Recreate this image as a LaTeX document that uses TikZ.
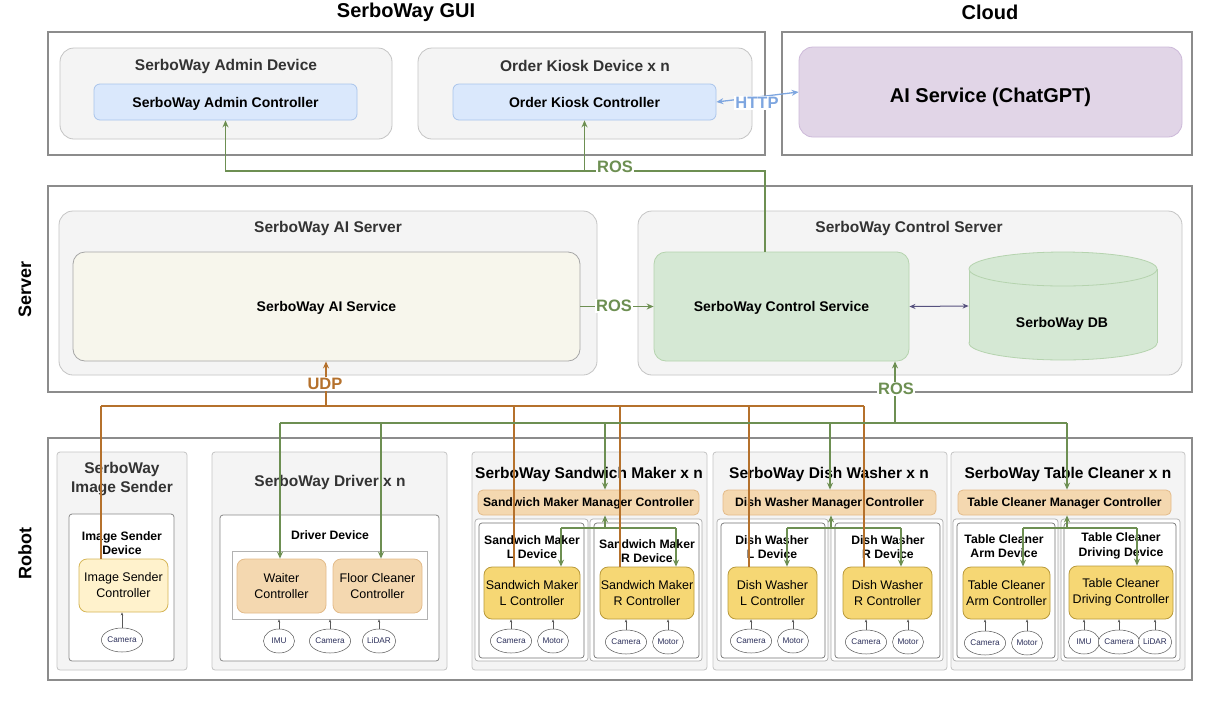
\documentclass[tikz,border=0pt]{standalone}
\usepackage{fontspec}
\setmainfont{Liberation Sans}
\usetikzlibrary{arrows.meta,shapes.geometric}
\definecolor{rosg}{HTML}{6D8F52}
\definecolor{udpb}{HTML}{B5712C}
\definecolor{httpb}{HTML}{7EA6E0}
\definecolor{dbp}{HTML}{56517E}
\definecolor{outerd}{HTML}{8C8C8C}
\definecolor{grpfill}{HTML}{F4F4F4}
\definecolor{grpdraw}{HTML}{C4C4C4}
\definecolor{bluef}{HTML}{DAE8FC}
\definecolor{blued}{HTML}{A9C4EB}
\definecolor{purf}{HTML}{E1D5E7}
\definecolor{purd}{HTML}{CDB9D9}
\definecolor{aisf}{HTML}{F7F6EC}
\definecolor{aisd}{HTML}{A6A6A6}
\definecolor{grnf}{HTML}{D5E8D4}
\definecolor{grnd}{HTML}{B5D3AE}
\definecolor{tanf}{HTML}{F4D8B0}
\definecolor{tand}{HTML}{E3BB8A}
\definecolor{goldf}{HTML}{F6D774}
\definecolor{goldd}{HTML}{B8993A}
\definecolor{creamf}{HTML}{FFF2CC}
\definecolor{creamd}{HTML}{D6B656}
\definecolor{devd}{HTML}{8A8A8A}
\definecolor{txtg}{HTML}{333333}
\definecolor{senst}{HTML}{2B2F5A}
\newcommand\fntTitle{\fontsize{20}{24}\selectfont\bfseries}
\newcommand\fntSide{\fontsize{18}{22}\selectfont\bfseries}
\newcommand\fntGroup{\fontsize{15.5}{19}\selectfont\bfseries}
\newcommand\fntCtl{\fontsize{14}{17}\selectfont\bfseries}
\newcommand\fntDev{\fontsize{12.2}{14.5}\selectfont\bfseries}
\newcommand\fntNorm{\fontsize{12.5}{16}\selectfont}
\newcommand\fntSens{\fontsize{8.2}{10}\selectfont}
\newcommand\fntLink{\fontsize{16.5}{19}\selectfont\bfseries}
\begin{document}
\begin{tikzpicture}[x=1pt,y=-1pt,
  corners/.style n args={4}{at={({(#1+#3)/2},{(#2+#4)/2})}, minimum width={#3-#1}, minimum height={#4-#2}, anchor=center},
  box/.style={rectangle, inner sep=0pt, line width=0.8pt},
  outerbox/.style={box, draw=outerd, line width=1.2pt, fill=white},
  grp/.style={box, draw=grpdraw, fill=grpfill, rounded corners=14pt},
  sgrp/.style={box, draw=grpdraw, fill=grpfill, rounded corners=3pt},
  devbox/.style={box, draw=devd, fill=white, rounded corners=3pt},
  devout/.style={box, draw=devd!70, fill=white, rounded corners=3pt, line width=0.7pt},
  devin/.style={box, draw=devd!120, fill=white, rounded corners=3pt, line width=0.7pt},
  plainrect/.style={box, draw=black!30, fill=white},
  ctltext/.style={font=\fntCtl, text height=10pt, text depth=0pt},
  bluec/.style={box, draw=blued, fill=bluef, rounded corners=6pt, ctltext},
  tanc/.style={box, draw=tand, fill=tanf, rounded corners=8pt, font=\fntNorm, align=center},
  tanm/.style={box, draw=tand, fill=tanf, rounded corners=5pt, font=\fntDev, text height=8.7pt, text depth=0pt},
  goldc/.style={box, draw=goldd, fill=goldf, rounded corners=8pt, font=\fntNorm, align=center},
  creamc/.style={box, draw=creamd, fill=creamf, rounded corners=8pt, font=\fntNorm, align=center},
  sensor/.style={ellipse, draw=black!65, fill=white, line width=0.5pt, minimum width=31pt, minimum height=24pt, inner sep=0pt, font=\fntSens, text=senst},
  glabel/.style={font=\fntGroup, text=txtg, align=center},
  klabel/.style={font=\fntGroup, text=black},
  dlabel/.style={font=\fntDev, align=center},
  ros/.style={draw=rosg, line width=1.3pt},
  rosa/.style={ros, -{Stealth[length=7pt,width=6pt]}},
  udp/.style={draw=udpb, line width=1.3pt},
  udpa/.style={udp, -{Stealth[length=7pt,width=6pt]}},
  sens/.style={draw=black!65, line width=0.4pt, -{Stealth[length=3pt,width=2.5pt]}},
  linklbl/.style={font=\fntLink, fill=white, inner sep=1.5pt}
]
\useasboundingbox (0,0) rectangle (1222,705);

% ---------- titles ----------
\node[font=\fntTitle] (tgui) at (406,12) {SerboWay GUI};
\node[font=\fntTitle] (tcloud) at (990,12) {Cloud};
\node[font=\fntSide, rotate=90] (tserver) at (25,289) {Server};
\node[font=\fntSide, rotate=90] (trobot) at (25,553) {Robot};

% ---------- GUI ----------
\node[outerbox, corners={48}{32}{765}{155}] (gui) {};
\node[outerbox, corners={782}{32}{1192}{155}] (cloud) {};
\node[grp, corners={60}{48}{392}{139}] (admindev) {};
\node[glabel] (ladmindev) at (226,66) {SerboWay Admin Device};
\node[bluec, corners={94}{84}{357}{120}] (adminctrl) {SerboWay Admin Controller};
\node[grp, corners={418}{48}{752}{139}] (kioskdev) {};
\node[glabel] (lkioskdev) at (585,66) {Order Kiosk Device x n};
\node[bluec, corners={453}{84}{716}{120}] (kioskctrl) {Order Kiosk Controller};
\node[box, draw=purd, fill=purf, rounded corners=14pt, corners={799}{47}{1182}{137}, font=\fntTitle, text height=20pt, text depth=0pt] (chatgpt) {AI Service (ChatGPT)};

% ---------- Server ----------
\node[outerbox, corners={48}{186}{1192}{392}] (server) {};
\node[grp, corners={59}{211}{597}{375}] (aiserver) {};
\node[glabel] (laiserver) at (328,228) {SerboWay AI Server};
\node[box, draw=aisd, fill=aisf, rounded corners=12pt, corners={73}{252}{580}{361}, ctltext] (aisvc) {SerboWay AI Service};
\node[grp, corners={638}{211}{1182}{375}] (ctrlserver) {};
\node[glabel] (lctrlserver) at (909,228) {SerboWay Control Server};
\node[box, draw=grnd, fill=grnf, rounded corners=12pt, corners={654}{252}{909}{361}, ctltext] (ctrlsvc) {SerboWay Control Service};
% database cylinder
\filldraw[fill=grnf, draw=grnd, line width=0.8pt] (1063,343) ellipse [x radius=94, y radius=17];
\fill[grnf] (969,269) rectangle (1157,343);
\draw[grnd, line width=0.8pt] (969,269) -- (969,343) (1157,269) -- (1157,343);
\filldraw[fill=grnf, draw=grnd, line width=0.8pt] (1063,269) ellipse [x radius=94, y radius=17];
\node[box, corners={969}{252}{1157}{360}] (db) {};
\node[ctltext] (ldb) at (1062,322) {SerboWay DB};

% ---------- Robot ----------
\node[outerbox, corners={48}{438}{1192}{680}] (robot) {};

% Image sender
\node[sgrp, corners={57}{452}{187}{670}] (gis) {};
\node[glabel] (lgis) at (122,479.5) {SerboWay\\Image Sender};
\node[devbox, corners={69}{514}{174}{661}] (disd) {};
\node[dlabel] (ldisd) at (122,543) {Image Sender\\Device};
\node[creamc, corners={79}{559}{168}{612}] (isctrl) {Image Sender\\Controller};
\node[sensor] (iscam) at (122,640) {Camera};

% Driver
\node[sgrp, corners={212}{452}{447}{670}] (gdrv) {};
\node[glabel] (lgdrv) at (330,482) {SerboWay Driver x n};
\node[devbox, corners={220}{515}{439}{661}] (ddrv) {};
\node[dlabel] (lddrv) at (330,535) {Driver Device};
\node[plainrect, corners={232}{551}{427}{619}] (drvin) {};
\node[tanc, corners={237}{559}{326}{613}] (waiter) {Waiter\\Controller};
\node[tanc, corners={333}{559}{422}{613}] (floor) {Floor Cleaner\\Controller};
\node[sensor] (dimu) at (279,641) {IMU};
\node[sensor] (dcam) at (330,641) {Camera};
\node[sensor] (dlid) at (379,641) {LiDAR};

% Sandwich maker
\node[sgrp, corners={472}{452}{707}{670}] (gsw) {};
\node[klabel] (lgsw) at (589,474) {SerboWay Sandwich Maker x n};
\node[tanm, corners={478}{490}{699}{515}] (swmgr) {Sandwich Maker Manager Controller};
\node[devout, corners={475}{519}{588}{661}] (swlo) {};
\node[devin, corners={479}{523}{584}{658}] (swl) {};
\node[devout, corners={590}{519}{702}{661}] (swro) {};
\node[devin, corners={594}{523}{699}{658}] (swr) {};
\node[dlabel] (lswl) at (532,547) {Sandwich Maker\\L Device};
\node[dlabel] (lswr) at (647,551) {Sandwich Maker\\R Device};
\node[goldc, corners={484}{567}{580}{619}] (swlctrl) {Sandwich Maker\\L Controller};
\node[goldc, corners={600}{567}{694}{619}] (swrctrl) {Sandwich Maker\\R Controller};
\node[sensor] (swlcam) at (511,641) {Camera};
\node[sensor] (swlmot) at (553,641) {Motor};
\node[sensor] (swrcam) at (626,642) {Camera};
\node[sensor] (swrmot) at (668,642) {Motor};

% Dish washer
\node[sgrp, corners={713}{452}{947}{670}] (gdw) {};
\node[klabel] (lgdw) at (829,474) {SerboWay Dish Washer x n};
\node[tanm, corners={723}{490}{936}{515}] (dwmgr) {Dish Washer Manager Controller};
\node[devout, corners={717}{519}{828}{661}] (dwlo) {};
\node[devin, corners={721}{523}{825}{658}] (dwl) {};
\node[devout, corners={831}{519}{943}{661}] (dwro) {};
\node[devin, corners={835}{523}{940}{658}] (dwr) {};
\node[dlabel] (ldwl) at (772,547) {Dish Washer\\L Device};
\node[dlabel] (ldwr) at (888,547) {Dish Washer\\R Device};
\node[goldc, corners={728}{567}{817}{619}] (dwlctrl) {Dish Washer\\L Controller};
\node[goldc, corners={843}{567}{932}{619}] (dwrctrl) {Dish Washer\\R Controller};
\node[sensor] (dwlcam) at (751,641) {Camera};
\node[sensor] (dwlmot) at (793,641) {Motor};
\node[sensor] (dwrcam) at (866,642) {Camera};
\node[sensor] (dwrmot) at (908,642) {Motor};

% Table cleaner
\node[sgrp, corners={951}{452}{1185}{670}] (gtc) {};
\node[klabel] (lgtc) at (1068,474) {SerboWay Table Cleaner x n};
\node[tanm, corners={958}{490}{1171}{515}] (tcmgr) {Table Cleaner Manager Controller};
\node[devout, corners={953}{519}{1058}{661}] (tcao) {};
\node[devin, corners={957}{523}{1055}{658}] (tca) {};
\node[devout, corners={1061}{519}{1180}{661}] (tcdo) {};
\node[devin, corners={1064}{523}{1176}{658}] (tcd) {};
\node[dlabel] (ltca) at (1004,546) {Table Cleaner\\Arm Device};
\node[dlabel] (ltcd) at (1121,546) {Table Cleaner\\Driving Device};
\node[goldc, corners={963}{567}{1050}{619}] (tcactrl) {Table Cleaner\\Arm Controller};
\node[goldc, corners={1069}{566}{1173}{619}] (tcdctrl) {Table Cleaner\\Driving Controller};
\node[sensor] (tcacam) at (985,643) {Camera};
\node[sensor] (tcamot) at (1027,643) {Motor};
\node[sensor] (tcdimu) at (1084,642) {IMU};
\node[sensor] (tcdcam) at (1119,642) {Camera};
\node[sensor] (tcdlid) at (1155,642) {LiDAR};

% ---------- sensor arrows ----------
\draw[sens] (iscam.north) -- (isctrl.south -| iscam);
\foreach \s in {dimu,dcam,dlid} \draw[sens] (\s.north) -- (drvin.south -| \s);
\foreach \s in {swlcam,swlmot} \draw[sens] (\s.north) -- (swlctrl.south -| \s);
\foreach \s in {swrcam,swrmot} \draw[sens] (\s.north) -- (swrctrl.south -| \s);
\foreach \s in {dwlcam,dwlmot} \draw[sens] (\s.north) -- (dwlctrl.south -| \s);
\foreach \s in {dwrcam,dwrmot} \draw[sens] (\s.north) -- (dwrctrl.south -| \s);
\foreach \s in {tcacam,tcamot} \draw[sens] (\s.north) -- (tcactrl.south -| \s);
\foreach \s in {tcdimu,tcdcam,tcdlid} \draw[sens] (\s.north) -- (tcdctrl.south -| \s);

% ---------- manager <-> controllers ----------
\coordinate (sj) at (605,528);
\coordinate (sjl) at (561,528);
\coordinate (sjr) at (676,528);
\draw[rosa] (sj) -- (swmgr.south -| sj);
\draw[ros] (sjl) -- (sjr);
\draw[rosa] (sjl) -- (swlctrl.north -| sjl);
\draw[rosa] (sjr) -- (swrctrl.north -| sjr);

\coordinate (dj) at (831,528);
\coordinate (djl) at (787,528);
\coordinate (djr) at (901,528);
\draw[rosa] (dj) -- (dwmgr.south -| dj);
\draw[ros] (djl) -- (djr);
\draw[rosa] (djl) -- (dwlctrl.north -| djl);
\draw[rosa] (djr) -- (dwrctrl.north -| djr);

\coordinate (tj) at (1067,528);
\coordinate (tjl) at (1023,528);
\coordinate (tjr) at (1137,528);
\draw[rosa] (tj) -- (tcmgr.south -| tj);
\draw[ros] (tjl) -- (tjr);
\draw[rosa] (tjl) -- (tcactrl.north -| tjl);
\draw[rosa] (tjr) -- (tcdctrl.north -| tjr);

% ---------- UDP bus ----------
\coordinate (ub1) at (101,406);
\coordinate (ub2) at (514,406);
\coordinate (ub3) at (620,406);
\coordinate (ub4) at (749,406);
\coordinate (ub5) at (864,406);
\coordinate (udpj) at (326,406);
\draw[udp] (ub1) -- (ub5);
\draw[udp] (isctrl.north -| ub1) -- (ub1);
\draw[udp] (swlctrl.north -| ub2) -- (ub2);
\draw[udp] (swrctrl.north -| ub3) -- (ub3);
\draw[udp] (dwlctrl.north -| ub4) -- (ub4);
\draw[udp] (dwrctrl.north -| ub5) -- (ub5);
\draw[udpa] (udpj) -- (aisvc.south -| udpj);

% ---------- ROS bus (robot) ----------
\coordinate (rb1) at (280,423);
\coordinate (rb2) at (381,423);
\coordinate (rb3) at (605,423);
\coordinate (rb4) at (830,423);
\coordinate (rb5) at (1067,423);
\coordinate (rbu) at (895,423);
\draw[ros] (rb1) -- (rb5);
\draw[rosa] (rb1) -- (waiter.north -| rb1);
\draw[rosa] (rb2) -- (floor.north -| rb2);
\draw[rosa] (rb3) -- (swmgr.north -| rb3);
\draw[rosa] (rb4) -- (dwmgr.north -| rb4);
\draw[rosa] (rb5) -- (tcmgr.north -| rb5);
\draw[rosa] (rbu) -- (ctrlsvc.south -| rbu);

% ---------- server links ----------
\draw[rosa] (aisvc.east) -- (ctrlsvc.west);
\draw[draw=dbp, line width=1pt, {Stealth[length=6pt,width=5pt]}-{Stealth[length=6pt,width=5pt]}] (ctrlsvc.east) -- (db.west);

% ---------- server to GUI ----------
\coordinate (rosj) at (765,171);
\draw[rosa] (ctrlsvc.north -| rosj) -- (rosj) -| (adminctrl.south);
\draw[rosa] (rosj -| kioskctrl.south) -- (kioskctrl.south);
\draw[draw=httpb, line width=1.3pt, {Stealth[length=7pt,width=6pt]}-{Stealth[length=7pt,width=6pt]}] (kioskctrl.east) -- (chatgpt.west);

% ---------- link labels ----------
\node[linklbl, text=httpb] (lhttp) at (757,103) {HTTP};
\node[linklbl, text=rosg] (lrostop) at (615,167) {ROS};
\node[linklbl, text=rosg] (lrosmid) at (614,306) {ROS};
\node[linklbl, text=udpb] (ludp) at (325,384) {UDP};
\node[linklbl, text=rosg] (lrosbot) at (896,389) {ROS};
\end{tikzpicture}
\end{document}
